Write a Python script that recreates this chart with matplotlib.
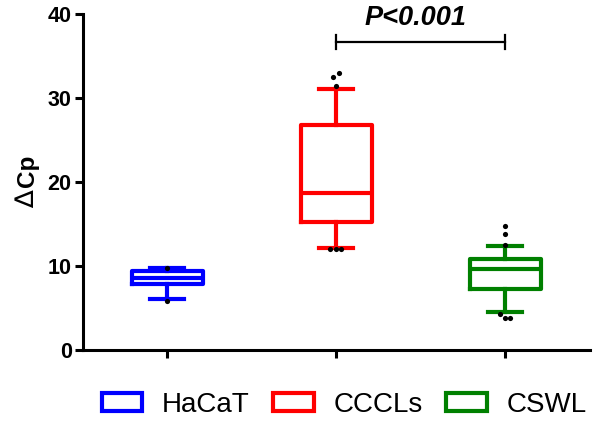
import matplotlib
matplotlib.use("Agg")
import matplotlib.pyplot as plt
from matplotlib.patches import Patch

plt.rcParams['font.family'] = ['Liberation Sans', 'DejaVu Sans']

groups = ["HaCaT", "CCCLs", "CSWL"]
colors = ["#0000FF", "#FF0000", "#008000"]
whislo = [6.1, 12.2, 4.6]
q1 = [7.9, 15.3, 7.3]
med = [8.6, 18.7, 9.7]
q3 = [9.4, 26.8, 10.8]
whishi = [9.8, 31.1, 12.4]
fliers = [[9.8, 5.9], [33.0, 32.5, 31.4, 12.0, 12.0, 12.0], [14.8, 13.85, 12.5, 4.35, 3.85, 3.85]]
flier_dx = [[0, 0], [0.015, -0.02, 0, -0.035, 0, 0.03], [0, 0, 0, -0.03, 0, 0.03]]
yticks = [0, 10, 20, 30, 40]
sig_text = "P<0.001"
sig_y = 36.7

fig = plt.figure(figsize=(6.0, 4.26), dpi=100)
ax = fig.add_axes([0.138, 0.178, 0.845, 0.789])

stats = []
for i, g in enumerate(groups):
    stats.append(dict(label=g, whislo=whislo[i], q1=q1[i], med=med[i], q3=q3[i], whishi=whishi[i], fliers=[]))

positions = [1, 2, 3]
for i in range(3):
    c = colors[i]
    lw = 3.0
    ax.bxp([stats[i]], positions=[positions[i]], widths=0.42, showfliers=False,
           boxprops=dict(color=c, linewidth=lw),
           medianprops=dict(color=c, linewidth=lw, solid_capstyle='butt'),
           whiskerprops=dict(color=c, linewidth=lw),
           capprops=dict(color=c, linewidth=lw),
           capwidths=0.2)
    xs = [positions[i] + d for d in flier_dx[i]]
    ax.scatter(xs, fliers[i], s=14, color='black', zorder=5, linewidths=0)

ax.set_xlim(0.5, 3.5)
ax.set_ylim(0, 40)
ax.set_yticks(yticks)
ax.set_xticks(positions)
ax.set_xticklabels([])
for lab in ax.get_yticklabels():
    lab.set_fontweight('bold')
ax.tick_params(axis='y', labelsize=15.5, width=2.2, length=6, pad=2)
ax.tick_params(axis='x', width=2.2, length=6)
for s in ['top', 'right']:
    ax.spines[s].set_visible(False)
for s in ['left', 'bottom']:
    ax.spines[s].set_linewidth(2.2)

# y label: thin delta + bold Cp
fig.text(27 / 600, 1 - 199 / 426, "∆", rotation=90, ha='center', va='center',
         fontsize=19, family=['DejaVu Sans'])
fig.text(27 / 600, 1 - 171 / 426, "Cp", rotation=90, ha='center', va='center',
         fontsize=17.5, fontweight='bold')

# significance bar
ax.plot([2, 3], [sig_y, sig_y], color='black', lw=1.6)
ax.plot([2, 2], [sig_y - 0.8, sig_y + 0.8], color='black', lw=1.6)
ax.plot([3, 3], [sig_y - 0.8, sig_y + 0.8], color='black', lw=1.6)
ax.text(2.47, sig_y + 1.3, sig_text, ha='center', va='bottom', fontsize=19.5,
        fontweight='bold', fontstyle='italic')

handles = [Patch(facecolor='white', edgecolor=c, linewidth=3) for c in colors]
fig.legend(handles, groups, loc='center left', bbox_to_anchor=(101.7 / 600, 1 - 404.5 / 426),
           ncol=3, frameon=False, fontsize=20, handlelength=1.45, handleheight=0.62,
           columnspacing=0.85, handletextpad=0.72, borderpad=0, borderaxespad=0)

fig.savefig("out.png", dpi=100)
